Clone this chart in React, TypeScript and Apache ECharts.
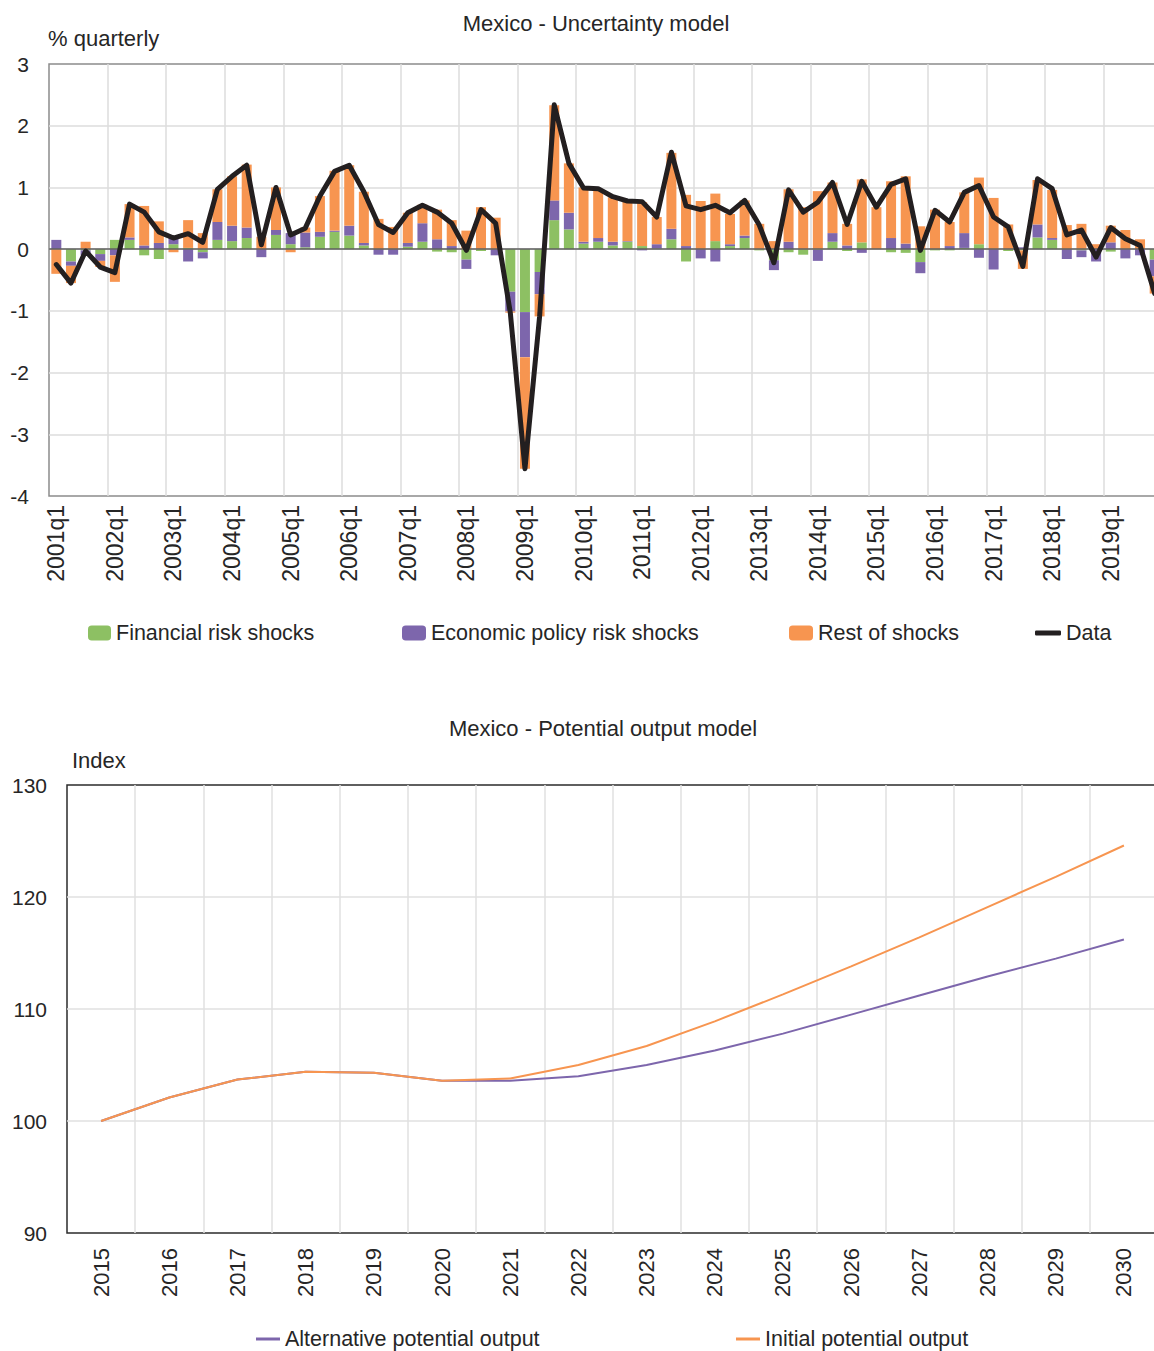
import React, { useEffect, useRef } from "react";
import * as echarts from "echarts";

// ---------- Top chart data (quarterly, 2001q1 - 2019q4) ----------
const YEARS_Q = [
  "2001", "2002", "2003", "2004", "2005", "2006", "2007", "2008", "2009", "2010",
  "2011", "2012", "2013", "2014", "2015", "2016", "2017", "2018", "2019",
];
const QTRS = ["q1", "q2", "q3", "q4"];
const QUARTERS = YEARS_Q.flatMap((y) => QTRS.map((q) => y + q));

const FINANCIAL = [
  0, -0.2, -0.02, -0.08, 0.15, 0.15, -0.1, -0.16, 0.08, 0.02,
  -0.05, 0.15, 0.13, 0.18, 0, 0.23, 0.08, 0.03, 0.2, 0.28,
  0.22, 0.06, 0, 0, 0.04, 0.12, -0.04, -0.05, -0.17, -0.03,
  0, -0.69, -1.02, -0.37, 0.47, 0.32, 0.09, 0.12, 0.06, 0.12,
  0.05, 0.01, 0.16, -0.2, 0, 0.13, 0.05, 0.18, -0.02, -0.18,
  -0.05, -0.09, -0.01, 0.12, -0.03, 0.11, 0, -0.05, -0.06, -0.21,
  -0.02, -0.02, 0.02, 0.08, 0, -0.03, -0.02, 0.19, 0.15, 0,
  -0.02, 0, -0.04, 0, 0, -0.17,
];
const POLICY = [
  0.15, -0.07, -0.08, -0.11, -0.1, 0.04, 0.06, 0.1, 0.1, -0.2,
  -0.1, 0.29, 0.25, 0.17, -0.13, 0.08, 0.18, 0.24, 0.08, 0.02,
  0.16, 0.04, -0.09, -0.09, 0.06, 0.3, 0.16, 0.05, -0.15, 0,
  -0.1, -0.32, -0.73, -0.36, 0.32, 0.27, 0.03, 0.06, 0.06, 0.01,
  -0.02, 0.07, 0.17, 0.05, -0.15, -0.2, 0.03, 0.04, 0, -0.16,
  0.12, 0, -0.18, 0.14, 0.06, -0.06, 0, 0.18, 0.09, -0.18,
  0, 0.05, 0.24, -0.14, -0.33, 0, 0.03, 0.21, 0.03, -0.16,
  -0.11, -0.2, 0.11, -0.15, -0.1, -0.27,
];
const REST = [
  -0.4, -0.28, 0.12, -0.1, -0.43, 0.54, 0.64, 0.35, -0.05, 0.45,
  0.26, 0.53, 0.8, 1.02, 0.2, 0.69, -0.05, 0.08, 0.58, 0.97,
  0.98, 0.83, 0.49, 0.36, 0.49, 0.3, 0.48, 0.42, 0.3, 0.68,
  0.51, -0.02, -1.81, -0.36, 1.54, 0.8, 0.88, 0.79, 0.72, 0.65,
  0.71, 0.44, 1.23, 0.83, 0.78, 0.77, 0.49, 0.57, 0.41, 0.13,
  0.85, 0.68, 0.94, 0.82, 0.35, 1.02, 0.68, 0.92, 1.09, 0.37,
  0.64, 0.39, 0.66, 1.08, 0.83, 0.4, -0.3, 0.72, 0.78, 0.39,
  0.41, 0.08, 0.27, 0.31, 0.16, -0.28,
];
const DATA_LINE = [
  -0.25, -0.55, -0.03, -0.29, -0.38, 0.73, 0.6, 0.28, 0.18, 0.25,
  0.11, 0.97, 1.18, 1.36, 0.07, 1.0, 0.23, 0.34, 0.86, 1.26,
  1.36, 0.93, 0.4, 0.27, 0.59, 0.71, 0.6, 0.42, -0.02, 0.64,
  0.42, -1.03, -3.56, -1.09, 2.34, 1.39, 0.99, 0.98, 0.85, 0.78,
  0.77, 0.52, 1.57, 0.7, 0.64, 0.71, 0.59, 0.79, 0.39, -0.22,
  0.96, 0.6, 0.76, 1.08, 0.4, 1.1, 0.68, 1.05, 1.14, -0.02,
  0.63, 0.44, 0.92, 1.03, 0.52, 0.36, -0.28, 1.14, 0.98, 0.23,
  0.31, -0.13, 0.35, 0.17, 0.06, -0.72,
];

// ---------- Bottom chart data (annual index) ----------
const YEARS = [
  "2015", "2016", "2017", "2018", "2019", "2020", "2021", "2022",
  "2023", "2024", "2025", "2026", "2027", "2028", "2029", "2030",
];
const ALTERNATIVE = [
  100, 102.1, 103.7, 104.4, 104.3, 103.6, 103.6, 104.0,
  105.0, 106.3, 107.8, 109.5, 111.2, 112.9, 114.5, 116.2,
];
const INITIAL = [
  100, 102.1, 103.7, 104.4, 104.3, 103.6, 103.8, 105.0,
  106.7, 108.9, 111.3, 113.8, 116.4, 119.1, 121.8, 124.6,
];
const TOP_Y_TICKS = { min: -4, max: 3, interval: 1 };
const BOTTOM_Y_TICKS = { min: 90, max: 130, interval: 10 };

const GREEN = "#8DC063";
const PURPLE = "#7D66AC";
const ORANGE = "#F79550";
const BLACK = "#231F20";
const TEXT = "#262626";
const FONT = '"Liberation Sans", Arial, sans-serif';

export default function App() {
  const ref = useRef<HTMLDivElement>(null);
  useEffect(() => {
    document.body.style.margin = "0";
    if (!ref.current) return;
    const chart = echarts.init(ref.current, undefined, { renderer: "svg" });
    const legendText = { fontSize: 21.5, color: TEXT, fontFamily: FONT };
    const option: any = {
      animation: false,
      textStyle: { fontFamily: FONT },
      graphic: [
        {
          type: "text", x: 596, y: 23,
          style: { text: "Mexico - Uncertainty model", fontSize: 22, fontFamily: FONT, fill: TEXT, align: "center", verticalAlign: "middle" },
        },
        {
          type: "text", x: 48, y: 38,
          style: { text: "% quarterly", fontSize: 22, fontFamily: FONT, fill: TEXT, align: "left", verticalAlign: "middle" },
        },
        {
          type: "text", x: 603, y: 728,
          style: { text: "Mexico - Potential output model", fontSize: 22, fontFamily: FONT, fill: TEXT, align: "center", verticalAlign: "middle" },
        },
        {
          type: "text", x: 72, y: 760,
          style: { text: "Index", fontSize: 22, fontFamily: FONT, fill: TEXT, align: "left", verticalAlign: "middle" },
        },
      ],
      legend: [
        { data: ["Financial risk shocks"], left: 88, top: 622, padding: 0, itemWidth: 23, itemHeight: 15, itemGap: 0, textStyle: legendText, selectedMode: false },
        { data: ["Economic policy risk shocks"], left: 402, top: 622, padding: 0, itemWidth: 24, itemHeight: 15, textStyle: legendText, selectedMode: false },
        { data: ["Rest of shocks"], left: 789, top: 622, padding: 0, itemWidth: 24, itemHeight: 15, textStyle: legendText, selectedMode: false },
        { data: [{ name: "Data", icon: "roundRect" }], left: 1035, top: 622, padding: 0, itemWidth: 26, itemHeight: 5, textStyle: legendText, selectedMode: false },
        { data: [{ name: "Alternative potential output", icon: "rect" }], left: 256, top: 1328, padding: 0, itemWidth: 24, itemHeight: 3, textStyle: legendText, selectedMode: false },
        { data: [{ name: "Initial potential output", icon: "rect" }], left: 736, top: 1328, padding: 0, itemWidth: 24, itemHeight: 3, textStyle: legendText, selectedMode: false },
      ],
      grid: [
        { left: 49, top: 64, right: -8, height: 432, show: true, borderColor: "#8c8c8c", borderWidth: 1.5, outerBoundsMode: "none", containLabel: false },
        { left: 67, top: 785, right: -4, height: 448, show: true, borderColor: "#2b2b2b", borderWidth: 1.5, outerBoundsMode: "none", containLabel: false },
      ],
      xAxis: [
        {
          type: "category", gridIndex: 0, data: QUARTERS, boundaryGap: true,
          axisLine: { show: false }, axisTick: { show: false, interval: 3 },
          axisLabel: { interval: 3, rotate: 90, fontSize: 23, color: TEXT, margin: 9, fontFamily: FONT },
          splitLine: { show: true, interval: 3, showMinLine: false, showMaxLine: false, lineStyle: { color: "#dcdcdc", width: 1.5 } },
        },
        {
          type: "category", gridIndex: 1, data: YEARS, boundaryGap: true,
          axisLine: { show: false }, axisTick: { show: false, interval: 0 },
          axisLabel: { interval: 0, rotate: 90, fontSize: 22, color: TEXT, margin: 15, fontFamily: FONT },
          splitLine: { show: true, interval: 0, showMinLine: false, showMaxLine: false, lineStyle: { color: "#e0e0e0", width: 1.5 } },
        },
      ],
      yAxis: [
        {
          type: "value", gridIndex: 0, ...TOP_Y_TICKS,
          axisLine: { show: false }, axisTick: { show: false },
          axisLabel: { fontSize: 21, color: TEXT, margin: 20, fontFamily: FONT },
          splitLine: { show: true, showMinLine: false, showMaxLine: false, lineStyle: { color: "#dcdcdc", width: 1.5 } },
        },
        {
          type: "value", gridIndex: 1, ...BOTTOM_Y_TICKS,
          axisLine: { show: false }, axisTick: { show: false },
          axisLabel: { fontSize: 21, color: TEXT, margin: 20, fontFamily: FONT },
          splitLine: { show: true, showMinLine: false, showMaxLine: false, lineStyle: { color: "#e0e0e0", width: 1.5 } },
        },
      ],
      series: [
        { name: "Financial risk shocks", type: "bar", stack: "s", xAxisIndex: 0, yAxisIndex: 0, barWidth: 10, data: FINANCIAL, itemStyle: { color: GREEN } },
        { name: "Economic policy risk shocks", type: "bar", stack: "s", xAxisIndex: 0, yAxisIndex: 0, barWidth: 10, data: POLICY, itemStyle: { color: PURPLE } },
        { name: "Rest of shocks", type: "bar", stack: "s", xAxisIndex: 0, yAxisIndex: 0, barWidth: 10, data: REST, itemStyle: { color: ORANGE } },
        {
          name: "Data", type: "line", xAxisIndex: 0, yAxisIndex: 0, data: DATA_LINE, z: 5,
          symbol: "none", color: BLACK, itemStyle: { color: BLACK },
          lineStyle: { color: BLACK, width: 5, cap: "round", join: "round" },
          markLine: {
            silent: true, symbol: ["none", "none"], label: { show: false },
            lineStyle: { color: "#5f5f5f", width: 1.5, type: "solid" },
            data: [{ yAxis: 0 }],
          },
        },
        {
          name: "Alternative potential output", type: "line", xAxisIndex: 1, yAxisIndex: 1, data: ALTERNATIVE,
          symbol: "none", color: PURPLE, itemStyle: { color: PURPLE }, lineStyle: { color: PURPLE, width: 2 },
        },
        {
          name: "Initial potential output", type: "line", xAxisIndex: 1, yAxisIndex: 1, data: INITIAL,
          symbol: "none", color: ORANGE, itemStyle: { color: ORANGE }, lineStyle: { color: ORANGE, width: 2 },
        },
      ],
    };
    chart.setOption(option);
    return () => chart.dispose();
  }, []);
  return <div ref={ref} style={{ width: 1154, height: 1351 }} />;
}
